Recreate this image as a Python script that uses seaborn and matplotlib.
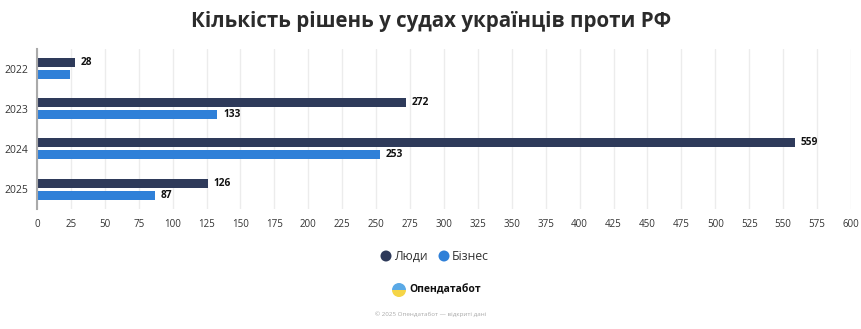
import matplotlib
matplotlib.use("Agg")
import matplotlib.pyplot as plt
import seaborn as sns
import pandas as pd
from matplotlib.patches import Circle, Wedge

years = ["2022", "2023", "2024", "2025"]
people = [28, 272, 559, 126]
business = [24, 133, 253, 87]
series_names = ["Люди", "Бізнес"]
xticks = list(range(0, 601, 25))

colors = ["#2e3a5a", "#2f80d8"]

df = pd.DataFrame({
    "year": years * 2,
    "value": people + business,
    "series": [series_names[0]] * 4 + [series_names[1]] * 4,
})

sns.set_theme(style="white")
plt.rcParams["font.family"] = ["Open Sans", "DejaVu Sans"]

W, H = 862, 329
fig = plt.figure(figsize=(W / 100, H / 100), dpi=100)
ax = fig.add_axes([37 / W, 1 - 209 / H, (851 - 37) / W, (209 - 49) / H])

sns.barplot(data=df, y="year", x="value", hue="series", order=years,
            hue_order=series_names, palette=colors, orient="h",
            width=0.6, gap=0.25, ax=ax, legend=False, saturation=1,
            linewidth=0)

ax.set_xlim(0, 600)
ax.set_xticks(xticks)
ax.set_xticklabels([str(t) for t in xticks], fontsize=7, color="#333333")
ax.tick_params(axis="x", length=0, pad=7)
ax.tick_params(axis="y", length=0, pad=6, labelsize=7.5, labelcolor="#333333")
ax.set_xlabel("")
ax.set_ylabel("")
ax.xaxis.grid(True, color="#ececec", linewidth=1)
ax.set_axisbelow(True)
for s in ["top", "right", "bottom"]:
    ax.spines[s].set_visible(False)
ax.spines["left"].set_color("#aaaaaa")
ax.spines["left"].set_linewidth(1.5)

label_sets = [[str(v) for v in people], ["" if i == 0 else str(v) for i, v in enumerate(business)]]
for cont, labs in zip(ax.containers, label_sets):
    ax.bar_label(cont, labels=labs, padding=4, fontsize=7.3, fontweight="bold", color="#111111")

fig.text(0.5, 1 - 22 / H, "Кількість рішень у судах українців проти РФ",
         ha="center", va="center", fontsize=14.8, fontweight="bold", color="#2b2b2b")

# legend
ly = 1 - 256 / H
for x, name, c in [(386, series_names[0], colors[0]), (444, series_names[1], colors[1])]:
    fig.patches.append(Circle((x, H - 256), 5.5, transform=None,
                              facecolor=c, edgecolor="none"))
    fig.text((x + 8) / W, ly, name, ha="left", va="center", fontsize=8.8, color="#333333")

# logo
lyy = 1 - 290 / H
fig.patches.append(Wedge((399, H - 290), 7, 0, 180, transform=None,
                         facecolor="#5aa9e6", edgecolor="none"))
fig.patches.append(Wedge((399, H - 290), 7, 180, 360, transform=None,
                         facecolor="#f5d547", edgecolor="none"))
fig.text(409 / W, lyy, "Опендатабот", ha="left", va="center", fontsize=7.5,
         fontweight="bold", color="#111111")
fig.text(0.5, 1 - 314 / H, "© 2025 Опендатабот — відкриті дані", ha="center",
         va="center", fontsize=4.5, color="#aaaaaa")

fig.savefig("out.png", dpi=100)
